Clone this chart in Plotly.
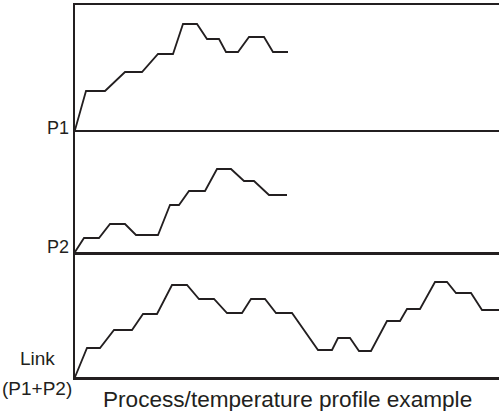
import plotly.graph_objects as go

# ---- data (time units, value units per panel) ----
p1_x = [0, 11, 30, 50, 67, 83, 98, 108, 122, 132, 144, 151, 163, 174, 189, 198, 213]
p1_y = [0, 39, 39, 58, 58, 76, 76, 106, 106, 91, 91, 78, 78, 93, 93, 78, 78]

p2_x = [0, 9, 24, 35, 50, 61, 83, 95, 104, 114, 130, 142, 156, 169, 179, 194, 212]
p2_y = [0, 14, 14, 28, 28, 17, 17, 47, 47, 61, 61, 83, 83, 71, 71, 57, 57]

link_x = [0, 12, 25, 39, 57, 68, 82, 97, 112, 124, 139, 152, 167, 176, 190, 201, 217,
          243, 257, 263, 275, 284, 296, 312, 325, 332, 345, 360, 372, 381, 396, 407, 424]
link_y = [0, 29, 29, 47, 47, 63, 63, 92, 92, 78, 78, 64, 64, 78, 78, 64, 64,
          27, 27, 39, 39, 26, 26, 56, 56, 68, 68, 95, 95, 84, 84, 67, 67]

labels = ["P1", "P2", "Link", "(P1+P2)"]
title_text = "Process/temperature profile example"

INK = "#231f20"
FONT = "Arial, Liberation Sans, sans-serif"

fig = go.Figure()
fig.add_trace(go.Scatter(x=p1_x, y=p1_y, mode="lines", xaxis="x3", yaxis="y",
                         line=dict(color=INK, width=1.8), hoverinfo="skip"))
fig.add_trace(go.Scatter(x=p2_x, y=p2_y, mode="lines", xaxis="x2", yaxis="y2",
                         line=dict(color=INK, width=1.8), hoverinfo="skip"))
fig.add_trace(go.Scatter(x=link_x, y=link_y, mode="lines", xaxis="x", yaxis="y3",
                         line=dict(color=INK, width=1.8), hoverinfo="skip"))

ax_common = dict(showgrid=False, zeroline=False, showticklabels=False, ticks="",
                 showline=True, linecolor=INK, linewidth=2.5, fixedrange=True)

fig.update_layout(
    width=499, height=411,
    margin=dict(l=75, r=0, t=5, b=34),
    paper_bgcolor="white", plot_bgcolor="white",
    showlegend=False,
    xaxis=dict(domain=[0, 1], anchor="y3", range=[0, 424], **ax_common),
    xaxis2=dict(domain=[0, 1], anchor="y2", matches="x", range=[0, 424], **ax_common),
    xaxis3=dict(domain=[0, 1], anchor="y", matches="x", range=[0, 424], mirror=True, **ax_common),
    yaxis=dict(domain=[0.664, 1], anchor="x3", range=[0, 125], **ax_common),
    yaxis2=dict(domain=[0.336, 0.664], anchor="x2", range=[0, 122], **ax_common),
    yaxis3=dict(domain=[0, 0.336], anchor="x", range=[0, 125], **ax_common),
)

lab_font = dict(family=FONT, size=18, color=INK)
link_font = dict(family=FONT, size=19, color=INK)
fig.add_annotation(text=labels[0], xref="paper", x=0, xanchor="right", xshift=-4,
                   yref="paper", y=0.664, yanchor="middle", yshift=2,
                   showarrow=False, font=lab_font)
fig.add_annotation(text=labels[1], xref="paper", x=0, xanchor="right", xshift=-4,
                   yref="paper", y=0.336, yanchor="middle", yshift=5,
                   showarrow=False, font=lab_font)
fig.add_annotation(text=labels[2], xref="paper", x=0, xanchor="center", xshift=-38,
                   yref="paper", y=0, yanchor="middle", yshift=19,
                   showarrow=False, font=link_font)
fig.add_annotation(text=labels[3], xref="paper", x=0, xanchor="center", xshift=-38,
                   yref="paper", y=0, yanchor="middle", yshift=-11,
                   showarrow=False, font=link_font)
fig.add_annotation(text=title_text, xref="paper", x=0.5, xanchor="center",
                   yref="paper", y=0, yanchor="middle", yshift=-22.5,
                   showarrow=False, font=dict(family=FONT, size=22.6, color=INK))

fig.write_html("out.html",
               config={"displayModeBar": False, "staticPlot": True},
               post_script="document.body.style.margin='0';document.body.style.overflow='hidden';")
